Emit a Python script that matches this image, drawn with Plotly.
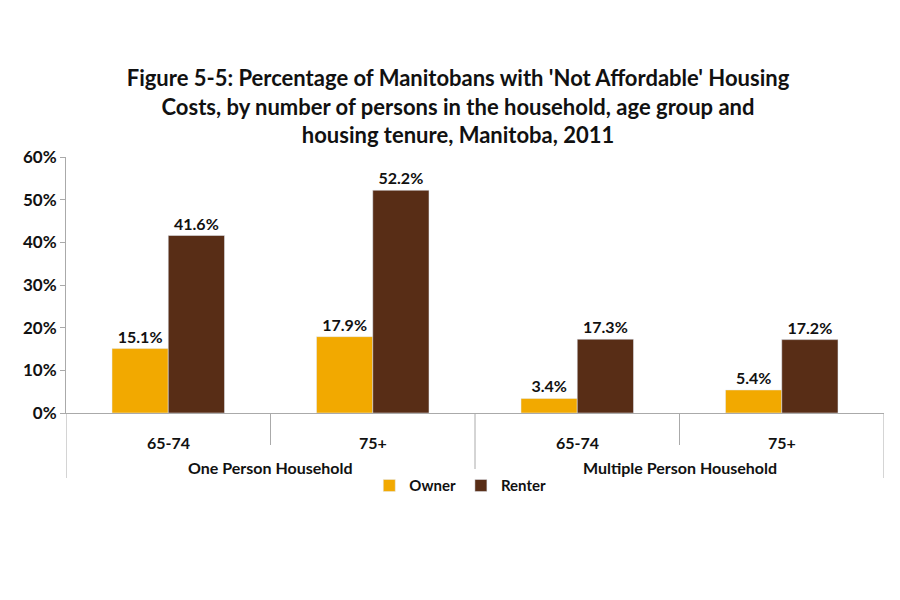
import plotly.graph_objects as go

households = ["One Person Household", "One Person Household", "Multiple Person Household", "Multiple Person Household"]
age_groups = ["65-74", "75+", "65-74", "75+"]
owner = [15.1, 17.9, 3.4, 5.4]
renter = [41.6, 52.2, 17.3, 17.2]

FONT = "Lato"
INK = "#111111"
LINE = "#AAAAAA"
def f(size):
    return dict(family=FONT, size=size, color=INK, weight="bold")

keys = [f"{h} | {a}" for h, a in zip(households, age_groups)]

fig = go.Figure()
fig.add_trace(go.Bar(
    x=keys, y=owner, name="Owner", marker_color="#F2A900",
    text=[f"{v:.1f}%" for v in owner], textposition="outside", cliponaxis=False,
    textfont=f(16),
))
fig.add_trace(go.Bar(
    x=keys, y=renter, name="Renter", marker_color="#582D16",
    text=[f"{v:.1f}%" for v in renter], textposition="outside", cliponaxis=False,
    textfont=f(16),
))

# inner (age group) labels
for k, a in zip(keys, age_groups):
    fig.add_annotation(x=k, xref="x", y=0, yref="paper", yshift=-29, text=a,
                       showarrow=False, font=f(16), yanchor="middle")
# outer (household) labels, centred over their categories
groups = []
for i, h in enumerate(households):
    if not groups or groups[-1][0] != h:
        groups.append([h, i, i])
    else:
        groups[-1][2] = i
for h, i0, i1 in groups:
    fig.add_annotation(x=(i0 + i1) / 2, xref="x", y=0, yref="paper", yshift=-54, text=h,
                       showarrow=False, font=f(16), yanchor="middle")
# dividers: short between age groups, long between households
for h, i0, i1 in groups:
    for b in range(i0, i1):
        fig.add_shape(type="line", xref="x", x0=b + 0.5, x1=b + 0.5,
                      yref="paper", ysizemode="pixel", yanchor=0, y0=0, y1=-32,
                      line=dict(color=LINE, width=1))
for b in [groups[0][1] - 0.5] + [g[2] + 0.5 for g in groups]:
    fig.add_shape(type="line", xref="x", x0=b, x1=b,
                  yref="paper", ysizemode="pixel", yanchor=0, y0=0, y1=-65,
                  line=dict(color=LINE, width=1))

fig.update_layout(
    width=900, height=600,
    barmode="group", bargap=0.45, bargroupgap=0,
    paper_bgcolor="white", plot_bgcolor="white",
    margin=dict(l=58, r=24, t=149, b=195),
    font=f(15),
    title=dict(
        text="Figure 5-5: Percentage of Manitobans with 'Not Affordable' Housing<br>Costs, by number of persons in the household, age group and<br>housing tenure, Manitoba, 2011",
        x=0.5, xanchor="center", y=0.87, yanchor="middle",
        font=f(22), automargin=False,
    ),
    legend=dict(orientation="h", x=0.482, xanchor="center", y=-0.284, yanchor="middle",
                font=f(15), itemwidth=30, tracegroupgap=0),
    showlegend=True,
)
fig.update_yaxes(
    range=[0, 60], dtick=10, ticksuffix="%", showgrid=False, zeroline=False,
    showline=True, linecolor=LINE, linewidth=1, ticks="outside", ticklen=5,
    tickcolor=LINE, tickfont=f(17), automargin=False,
)
fig.update_xaxes(
    type="category", showline=True, linecolor=LINE, linewidth=1,
    showticklabels=False, ticks="", automargin=False, range=[-0.5, 3.5],
)
fig.write_html("out.html")
